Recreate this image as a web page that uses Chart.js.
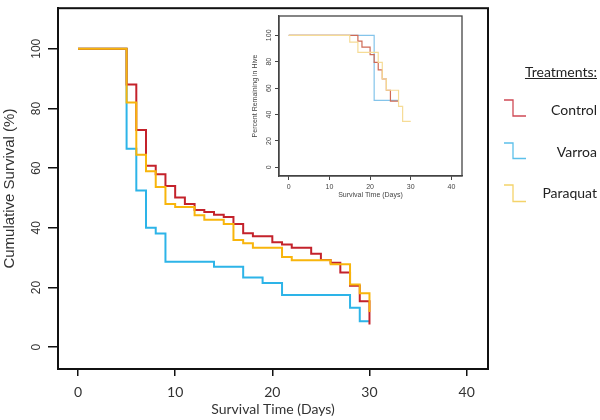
<!DOCTYPE html>
<html><head><meta charset="utf-8">
<script src="https://cdn.jsdelivr.net/npm/chart.js@4.4.1/dist/chart.umd.min.js"></script>
<style>
html,body{margin:0;padding:0;background:#fff;}
#wrap{position:relative;width:600px;height:420px;overflow:hidden;}
#main{position:absolute;left:0;top:0;}
#inset{position:absolute;left:245px;top:10px;}
.leg{position:absolute;right:3px;font-family:Lato,'Open Sans',sans-serif;font-size:14px;line-height:16px;color:#222;white-space:nowrap;}
.ico{position:absolute;left:503px;}
</style></head><body>
<div id="wrap">
<canvas id="main" width="600" height="420"></canvas>
<canvas id="inset" width="225" height="192"></canvas>
<div class="leg" style="top:64px;text-decoration:underline;">Treatments:</div>
<div class="leg" style="top:102px;">Control</div>
<div class="leg" style="top:144px;">Varroa</div>
<div class="leg" style="top:185px;">Paraquat</div>
<svg class="ico" style="top:98px" width="24" height="20"><polyline points="1,2 10,2 10,18 23,18" fill="none" stroke="#cf4a55" stroke-width="1.3"/></svg>
<svg class="ico" style="top:141px" width="24" height="20"><polyline points="1,2 10,2 10,17.5 23,17.5" fill="none" stroke="#5cc0ea" stroke-width="1.3"/></svg>
<svg class="ico" style="top:183px" width="24" height="20"><polyline points="1,2 10,2 10,18.5 23,18.5" fill="none" stroke="#f4d36a" stroke-width="1.3"/></svg>
</div>
<script>
// ---- main chart data (Kaplan-Meier steps) ----
const controlDays  = [0,5,6,7,8,9,10,11,12,13,14,15,16,17,18,20,21,22,24,25,26,27,28,29,30];
const controlSurv  = [100,88,72.8,60.8,58,54,50.2,48,46,45.3,44.4,43.6,41.3,38.2,37.2,35.2,34.4,33.3,31.3,29.2,28.3,25.0,20.6,15.4,7.6];
const varroaDays   = [0,5,6,7,8,9,14,17,19,21,28,29,30];
const varroaSurv   = [100,66.5,52.5,40,38.1,28.6,27.0,23.4,21.5,17.5,13.2,8.7,8.7];
const paraquatDays = [0,5,6,7,8,9,10,12,13,15,16,17,18,21,22,26,28,29,30];
const paraquatSurv = [100,82,64.5,59,53.7,48,47,44.2,42.7,41.3,35.9,34.8,33.3,30.2,29.1,27.8,21.0,18.1,11.8];
const xTicks = [0,10,20,30,40];
const yTicks = [0,20,40,60,80,100];

// ---- inset data (percent remaining in hive) ----
const inControlDays  = [0,17,18,20,21,22,23,24,25,27];
const inControlVals  = [100,95.6,91,85.4,79.5,73.8,66.9,58.4,50.2,50.2];
const inVarroaDays   = [0,21,27];
const inVarroaVals   = [100,50.7,50.7];
const inParaquatDays = [0,15,17,22,23,24,27,28,30];
const inParaquatVals = [100,94.8,87,79.5,66.9,58.4,46.2,34.8,34.8];

const toXY = (d, v) => d.map((x, i) => ({x: x, y: v[i]}));

const boxPlugin = (color, w) => ({
  id: 'box',
  afterDraw(chart) {
    const a = chart.chartArea, c = chart.ctx;
    c.save(); c.strokeStyle = color; c.lineWidth = w;
    c.strokeRect(a.left, a.top, a.right - a.left, a.bottom - a.top);
    c.restore();
  }
});

new Chart(document.getElementById('main'), {
  type: 'line',
  data: { datasets: [
    {label:'Paraquat', data: toXY(paraquatDays, paraquatSurv), borderColor:'#f8b50c', stepped:true},
    {label:'Control',  data: toXY(controlDays, controlSurv),   borderColor:'#c4222b', stepped:true},
    {label:'Varroa',   data: toXY(varroaDays, varroaSurv),     borderColor:'#2db4e8', stepped:true}
  ]},
  options: {
    responsive:false, animation:false, devicePixelRatio:1,
    layout:{padding:{left:0, top:4, right:112, bottom:0}},
    plugins:{legend:{display:false}, tooltip:{enabled:false}},
    elements:{point:{radius:0}, line:{borderWidth:2, fill:false}},
    scales:{
      x:{type:'linear', min:-2.06, max:42.2,
        afterFit(s){ s.height = 51; },
        afterBuildTicks(s){ s.ticks = xTicks.map(v => ({value:v})); },
        grid:{drawOnChartArea:false, drawTicks:true, tickLength:7, color:'#111', lineWidth:1.5},
        border:{display:true, color:'#111', width:2},
        ticks:{font:{family:'Lato', size:14}, color:'#333', padding:8, maxRotation:0, autoSkip:false},
        title:{display:true, text:'Survival Time (Days)', font:{family:'Lato', size:14}, color:'#333', padding:{top:0, bottom:2}}
      },
      y:{type:'linear', min:-7.3, max:113.6,
        afterFit(s){ s.width = 58; },
        afterBuildTicks(s){ s.ticks = yTicks.map(v => ({value:v})); },
        grid:{drawOnChartArea:false, drawTicks:true, tickLength:10, color:'#111', lineWidth:1.5},
        border:{display:true, color:'#111', width:2},
        ticks:{font:{family:'Liberation Sans', size:12}, color:'#333', padding:1, minRotation:90, maxRotation:90, crossAlign:'center', autoSkip:false},
        title:{display:true, text:'Cumulative Survival (%)', font:{family:'Liberation Sans', size:15}, color:'#333', padding:{top:1, bottom:0}}
      }
    }
  },
  plugins:[boxPlugin('#111', 2)]
});

new Chart(document.getElementById('inset'), {
  type: 'line',
  data: { datasets: [
    {label:'Paraquat', data: toXY(inParaquatDays, inParaquatVals), borderColor:'#f6dc96', stepped:true},
    {label:'Control',  data: toXY(inControlDays, inControlVals),   borderColor:'#cf6a55', stepped:true},
    {label:'Varroa',   data: toXY(inVarroaDays, inVarroaVals),     borderColor:'#84c4ea', stepped:true}
  ]},
  options: {
    responsive:false, animation:false, devicePixelRatio:1,
    layout:{padding:{left:0, top:6, right:8, bottom:0}},
    plugins:{legend:{display:false}, tooltip:{enabled:false}},
    elements:{point:{radius:0}, line:{borderWidth:1.2, fill:false}},
    scales:{
      x:{type:'linear', min:-2.4, max:42.6,
        afterFit(s){ s.height = 26; },
        afterBuildTicks(s){ s.ticks = xTicks.map(v => ({value:v})); },
        grid:{drawOnChartArea:false, drawTicks:true, tickLength:4, color:'#444', lineWidth:1},
        border:{display:true, color:'#444', width:1.3},
        ticks:{font:{family:'Liberation Sans', size:7}, color:'#444', padding:3, maxRotation:0, autoSkip:false},
        title:{display:true, text:'Survival Time (Days)', font:{family:'Liberation Sans', size:7}, color:'#444', padding:{top:0, bottom:3}}
      },
      y:{type:'linear', min:-6.5, max:114.6,
        afterFit(s){ s.width = 34; },
        afterBuildTicks(s){ s.ticks = yTicks.map(v => ({value:v})); },
        grid:{drawOnChartArea:false, drawTicks:true, tickLength:4, color:'#444', lineWidth:1},
        border:{display:true, color:'#444', width:1.3},
        ticks:{font:{family:'Liberation Sans', size:7}, color:'#444', padding:0, minRotation:90, maxRotation:90, crossAlign:'center', autoSkip:false},
        title:{display:true, text:'Percent Remaining in Hive', font:{family:'Liberation Sans', size:7}, color:'#444', padding:{top:6, bottom:0}}
      }
    }
  },
  plugins:[boxPlugin('#444', 1.3)]
});
</script>
</body></html>
